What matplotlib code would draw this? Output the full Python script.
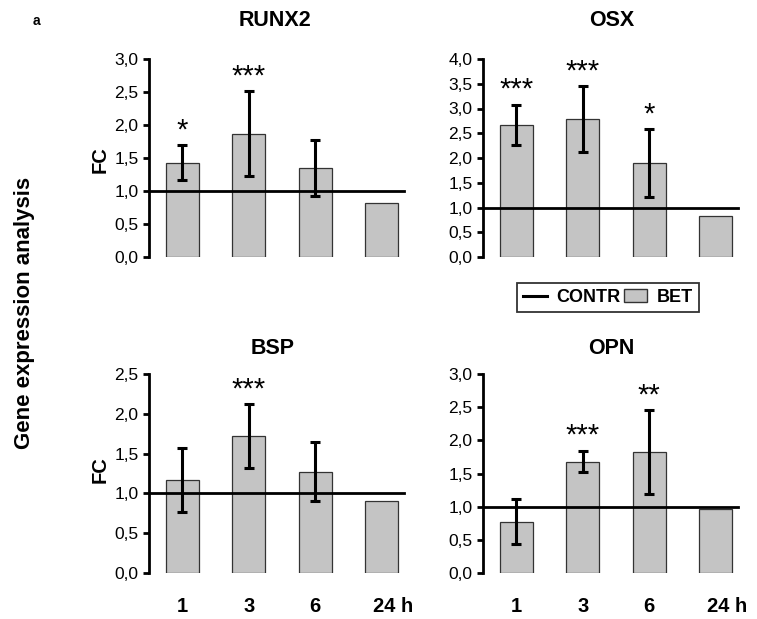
import matplotlib
matplotlib.use("Agg")
import matplotlib.pyplot as plt
import matplotlib.transforms as mtransforms
import numpy as np
from matplotlib.lines import Line2D
from matplotlib.patches import Patch

plt.rcParams['font.family'] = ['Liberation Sans', 'DejaVu Sans']

# data
times = ["1", "3", "6", "24 h"]
genes = ["RUNX2", "OSX", "BSP", "OPN"]

runx2_fc = [1.43, 1.87, 1.35, 0.82]
runx2_err = [0.26, 0.64, 0.42, 0.0]
runx2_sig = ["*", "***", "", ""]

osx_fc = [2.67, 2.79, 1.90, 0.82]
osx_err = [0.40, 0.66, 0.68, 0.0]
osx_sig = ["***", "***", "*", ""]

bsp_fc = [1.17, 1.72, 1.27, 0.91]
bsp_err = [0.40, 0.40, 0.37, 0.0]
bsp_sig = ["", "***", "", ""]

opn_fc = [0.77, 1.68, 1.82, 0.96]
opn_err = [0.34, 0.16, 0.63, 0.0]
opn_sig = ["", "***", "**", ""]

y_max = [3.0, 4.0, 2.5, 3.0]
control = 1.0

W, H = 757, 619
fig = plt.figure(figsize=(W / 100, H / 100), dpi=100)


def px_axes(x0, y_top, x1, y_bot):
    return fig.add_axes([x0 / W, 1 - y_bot / H, (x1 - x0) / W, (y_bot - y_top) / H])


panels = [
    (genes[0], runx2_fc, runx2_err, runx2_sig, y_max[0], (149, 59, 415, 257)),
    (genes[1], osx_fc, osx_err, osx_sig, y_max[1], (483, 59, 749, 257)),
    (genes[2], bsp_fc, bsp_err, bsp_sig, y_max[2], (149, 374, 415, 573)),
    (genes[3], opn_fc, opn_err, opn_sig, y_max[3], (483, 374, 749, 573)),
]

bar_color = "#c4c4c4"
for i, (name, fc, err, sig, ymax, box) in enumerate(panels):
    ax = px_axes(*box)
    x = np.arange(len(times))
    ax.bar(x, fc, width=0.5, color=bar_color, edgecolor="#333333", linewidth=0.9, zorder=2)
    for xi, v, e in zip(x, fc, err):
        if e > 0:
            ax.errorbar(xi, v, yerr=e, fmt="none", ecolor="black", elinewidth=2.2,
                        capsize=3.8, capthick=2.2, zorder=4)
    ax.plot([-0.5, 3.33], [control, control], color="black", lw=2.0, zorder=3)
    for xi, v, e, s in zip(x, fc, err, sig):
        if s:
            ax.text(xi, v + e + ymax * 0.005, s, ha="center", va="bottom", fontsize=21)
    ax.set_xlim(-0.5, 3.5)
    ax.set_ylim(0, ymax)
    ticks = np.arange(0, ymax + 0.01, 0.5)
    ax.set_yticks(ticks)
    ax.set_yticklabels([f"{t:.1f}".replace(".", ",") for t in ticks])
    for sp in ["top", "right", "bottom"]:
        ax.spines[sp].set_visible(False)
    ax.spines["left"].set_linewidth(2.0)
    ax.tick_params(axis="y", direction="out", length=4.5, width=2.0, labelsize=12.5, pad=3)
    if i >= 2:
        ax.set_xticks(x)
        ax.set_xticklabels(times, fontsize=14.5, fontweight="bold")
        ax.tick_params(axis="x", length=0, pad=17)
        last = ax.get_xticklabels()[-1]
        shift = mtransforms.ScaledTranslation(11 / 100, 0, fig.dpi_scale_trans)
        last.set_transform(last.get_transform() + shift)
    else:
        ax.set_xticks([])

# titles
title_kw = dict(ha="center", va="center", fontsize=15.5, fontweight="bold")
fig.text(275 / W, 1 - 20 / H, "RUNX2", **title_kw)
fig.text(612 / W, 1 - 20 / H, "OSX", **title_kw)
fig.text(273 / W, 1 - 348 / H, "BSP", **title_kw)
fig.text(611 / W, 1 - 348 / H, "OPN", **title_kw)
fig.text(36 / W, 1 - 21 / H, "a", ha="center", va="center", fontsize=10, fontweight="bold")

fig.text(25 / W, 1 - 313 / H, "Gene expression analysis", rotation=90, ha="center",
         va="center", fontsize=16, fontweight="bold")
fig.text(100 / W, 1 - 160 / H, "FC", rotation=90, ha="center", va="center",
         fontsize=14.5, fontweight="bold")
fig.text(100 / W, 1 - 470 / H, "FC", rotation=90, ha="center", va="center",
         fontsize=14.5, fontweight="bold")

# legend
handles = [Line2D([0], [0], color="black", lw=2.2),
           Patch(facecolor=bar_color, edgecolor="#333333")]
leg = fig.legend(handles, ["CONTR", "BET"], loc="center", bbox_to_anchor=(608 / W, 1 - 297.5 / H),
                 ncol=2, frameon=True, fancybox=False, edgecolor="black",
                 prop={"weight": "bold", "size": 13}, handlelength=1.3, handletextpad=0.5,
                 columnspacing=0.2, borderpad=0.35)
leg.get_frame().set_linewidth(1.3)

fig.savefig("out.png", dpi=100)
